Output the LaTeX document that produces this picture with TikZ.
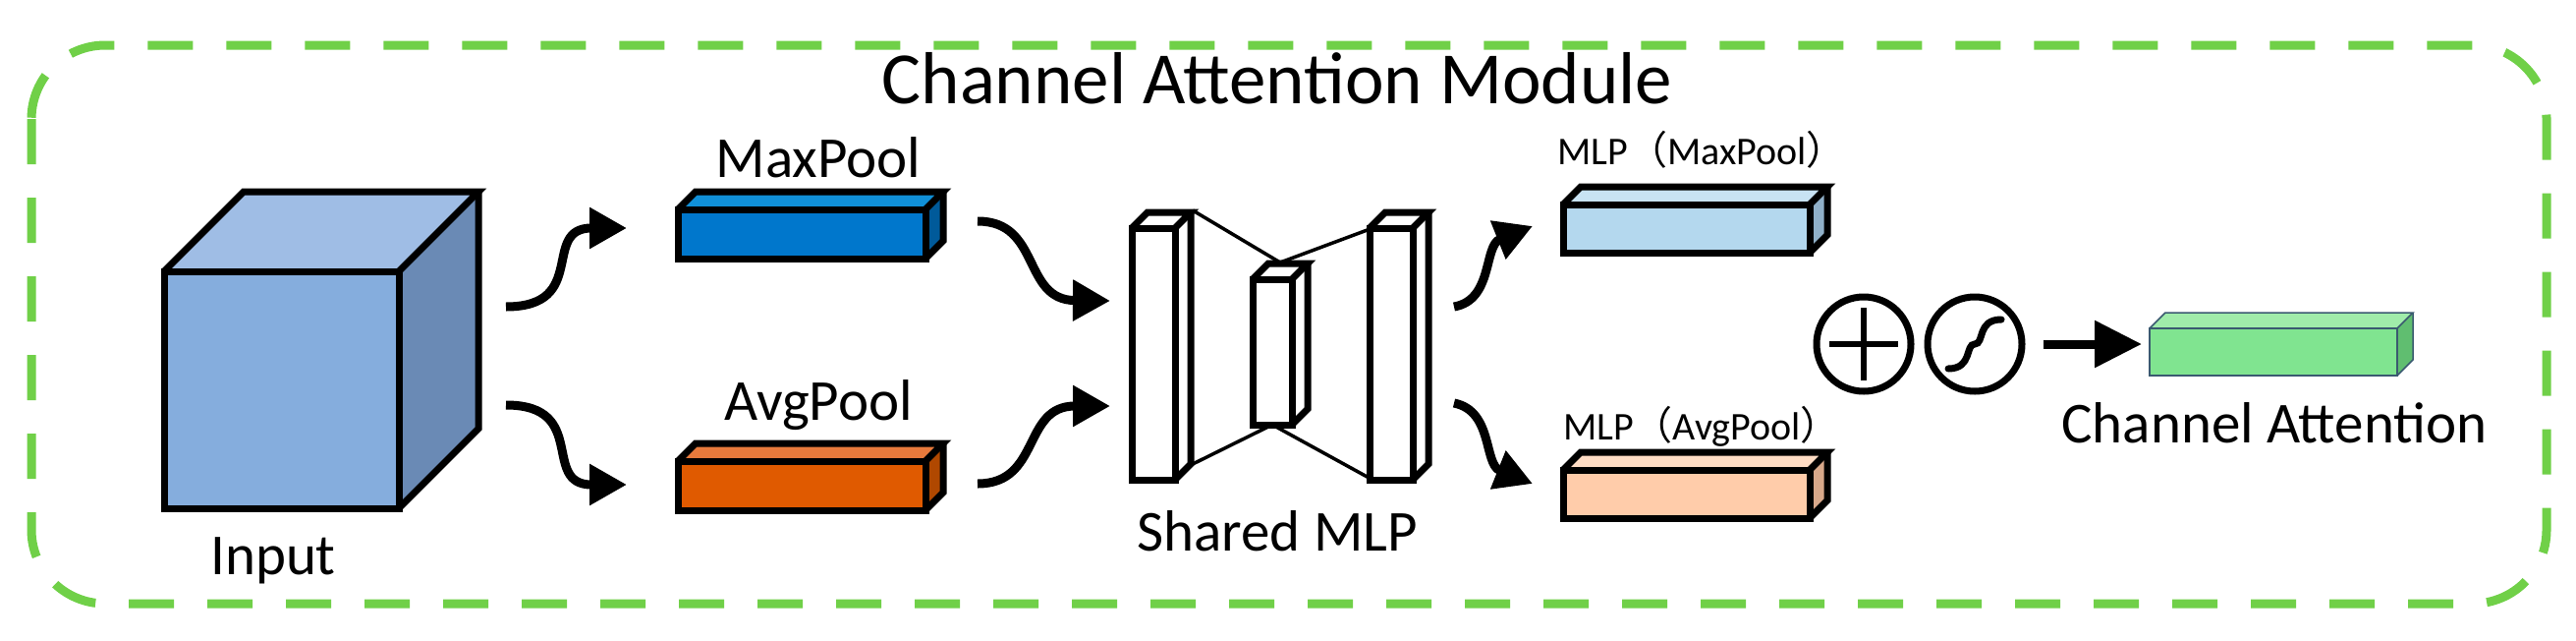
\documentclass[tikz,border=0pt]{standalone}
\usepackage{fontspec}
\setmainfont{Carlito}
\newfontfamily\cjkf{Noto Sans CJK SC}
\usetikzlibrary{arrows.meta}
\definecolor{dgreen}{HTML}{70D048}
\definecolor{inF}{HTML}{85ADDD}\definecolor{inT}{HTML}{9FBDE5}\definecolor{inS}{HTML}{6A8AB5}
\definecolor{mxF}{HTML}{0077CC}\definecolor{mxT}{HTML}{1090D8}\definecolor{mxS}{HTML}{005A9A}
\definecolor{avF}{HTML}{E05A00}\definecolor{avT}{HTML}{E87A3C}\definecolor{avS}{HTML}{B04800}
\definecolor{lbF}{HTML}{B4D8EE}\definecolor{lbT}{HTML}{C8E3F3}\definecolor{lbS}{HTML}{90B0C8}
\definecolor{loF}{HTML}{FFCCAA}\definecolor{loT}{HTML}{FFDCC4}\definecolor{loS}{HTML}{D8A88A}
\definecolor{grF}{HTML}{80E490}\definecolor{grT}{HTML}{A0ECAA}\definecolor{grS}{HTML}{60BE70}
\definecolor{grB}{HTML}{3A5A70}
\tikzset{
  outl/.style={line width=7pt, line join=miter},
  thinb/.style={line width=1.5pt, draw=grB},
  arr/.style={line width=9pt, -{Triangle[length=38pt,width=40pt]}},
  lbl/.style={inner sep=0pt, font=\fontsize{59}{64}\selectfont},
  slbl/.style={inner sep=0pt, font=\fontsize{40}{46}\selectfont},
}
\newcommand{\lp}{{\cjkf （}}
\newcommand{\rp}{{\cjkf ）}}
% #1 x0, #2 y0 (front top-left), #3 w, #4 h, #5 d, #6 front, #7 top, #8 side, #9 line style
\newcommand{\myprism}[9]{%
  \fill[#7] (#1,#2) -- ++(#5,-#5) -- ++(#3,0) -- ++(-#5,#5) -- cycle;
  \fill[#8] ({#1+#3},#2) -- ++(#5,-#5) -- ++(0,#4) -- ++(-#5,#5) -- cycle;
  \fill[#6] (#1,#2) rectangle ++(#3,#4);
  \draw[#9] (#1,#2) rectangle ++(#3,#4);
  \draw[#9] (#1,#2) -- ++(#5,-#5) -- ++(#3,0) -- ++(-#5,#5);
  \draw[#9] ({#1+#3+#5},{#2-#5}) -- ++(0,#4) -- ++(-#5,#5);
}
\begin{document}
\begin{tikzpicture}[x=1pt,y=-1pt]
\useasboundingbox (0,0) rectangle (2622,651);
% border
\draw[dgreen, line width=9pt, dash pattern=on 46pt off 34pt, rounded corners=75pt] (32,46) rectangle (2592,614);
\node[inner sep=0pt, font=\fontsize{75}{80}\selectfont] (title) at (1300,80) {Channel Attention Module};
% input cube
\myprism{167}{276}{239}{241}{81}{inF}{inT}{inS}{outl}
\node[lbl] (input) at (278,570) {Input};
\coordinate (in1) at (515,312);
\coordinate (in2) at (515,412);
% MaxPool / AvgPool bars
\myprism{690}{213}{252}{50}{18}{mxF}{mxT}{mxS}{outl}
\myprism{690}{469}{252}{50}{18}{avF}{avT}{avS}{outl}
\node[lbl] (maxl) at (833,160) {MaxPool};
\node[lbl] (avgl) at (833,412) {AvgPool};
\draw[arr] (in1) .. controls (600,312) and (550,232) .. (638,232);
\draw[arr] (in2) .. controls (600,412) and (550,493) .. (638,493);
% shared MLP
\myprism{1152}{232}{44}{256}{16}{white}{white}{white}{outl}
\myprism{1275}{284}{40}{148}{16}{white}{white}{white}{outl}
\myprism{1394}{232}{44}{256}{16}{white}{white}{white}{outl}
\draw[line width=3.5pt] (1214,214) -- (1303,267) -- (1397,232);
\draw[line width=3.5pt] (1214,472) -- (1295,432) -- (1397,488);
\node[lbl] (smlp) at (1300,540) {Shared MLP};
\draw[arr] (995,225) .. controls (1060,225) and (1040,305) .. (1130,306);
\draw[arr] (995,492) .. controls (1060,492) and (1040,413) .. (1130,413);
% MLP outputs
\draw[arr] (1480,312) .. controls (1520,305) and (1510,250) .. (1560,230);
\draw[arr] (1480,410) .. controls (1520,418) and (1510,472) .. (1560,492);
\myprism{1591}{208}{251}{49}{18}{lbF}{lbT}{lbS}{outl}
\myprism{1591}{478}{251}{49}{18}{loF}{loT}{loS}{outl}
\node[slbl] (mlpmax) at (1732,152) {MLP\lp MaxPool\rp};
\node[slbl] (mlpavg) at (1732,434) {MLP\lp AvgPool\rp};
% plus & sigmoid
\node[circle, draw, line width=7pt, minimum size=96pt, inner sep=0pt] (plus) at (1897,350) {};
\draw[line width=6pt] (plus.center) ++(-35,0) -- ++(70,0);
\draw[line width=6pt] (plus.center) ++(0,-37) -- ++(0,74);
\node[circle, draw, line width=7pt, minimum size=96pt, inner sep=0pt] (sig) at (2010,350) {};
\draw[line width=7pt, line cap=round] (sig.center) ++(-27,25) .. controls +(25,0) and +(-10,0) .. ++(27,-25) .. controls +(10,0) and +(-25,0) .. ++(27,-25);
\draw[line width=9pt, -{Triangle[length=48pt,width=46pt]}] (sig.east) ++(18,0) -- (2180,350);
\myprism{2188}{334}{252}{48}{16}{grF}{grT}{grS}{thinb}
\node[lbl] (cal) at (2315,430) {Channel Attention};
\end{tikzpicture}
\end{document}
